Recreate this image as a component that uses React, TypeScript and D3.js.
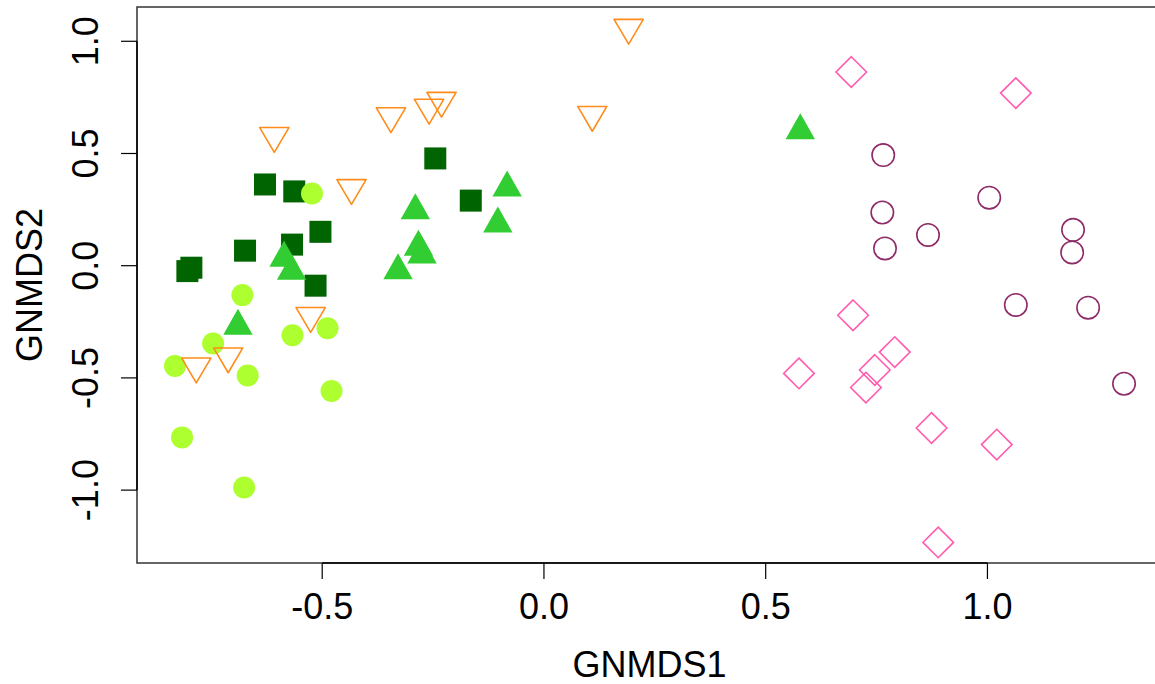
import React from "react";
import * as d3 from "d3";

// GNMDS ordination scores, one array pair per sample group
const squaresX = [-0.245, -0.629, -0.563, -0.165, -0.504, -0.568, -0.674, -0.795, -0.804, -0.515];
const squaresY = [0.478, 0.362, 0.331, 0.29, 0.151, 0.094, 0.067, -0.009, -0.024, -0.089];

const dotsX = [-0.523, -0.68, -0.567, -0.488, -0.746, -0.832, -0.668, -0.479, -0.816, -0.676];
const dotsY = [0.322, -0.131, -0.31, -0.279, -0.347, -0.447, -0.489, -0.558, -0.765, -0.988];

const trianglesX = [-0.083, -0.29, -0.104, -0.283, -0.275, -0.586, -0.569, -0.329, -0.69, 0.578];
const trianglesY = [0.347, 0.246, 0.187, 0.083, 0.049, 0.034, -0.024, -0.022, -0.269, 0.602];

const downTrianglesX = [-0.608, -0.345, -0.259, -0.231, -0.434, 0.191, 0.109, -0.526, -0.712, -0.784];
const downTrianglesY = [0.579, 0.667, 0.705, 0.736, 0.347, 1.061, 0.673, -0.223, -0.403, -0.448];

const diamondsX = [0.693, 1.064, 0.697, 0.791, 0.746, 0.575, 0.726, 0.874, 1.021, 0.889];
const diamondsY = [0.863, 0.769, -0.221, -0.385, -0.465, -0.48, -0.543, -0.723, -0.797, -1.233];

const ringsX = [0.765, 1.004, 0.763, 0.866, 0.769, 1.193, 1.191, 1.064, 1.227, 1.308];
const ringsY = [0.493, 0.303, 0.237, 0.137, 0.077, 0.16, 0.059, -0.175, -0.187, -0.526];

const xTicks = [-0.5, 0.0, 0.5, 1.0];
const yTicks = [-1.0, -0.5, 0.0, 0.5, 1.0];

const xLabel = "GNMDS1";
const yLabel = "GNMDS2";

const W = 1155;
const H = 684;
const plot = { left: 137, right: 1162, top: 7, bottom: 563 };

// axis limits: data range padded by 4% on each side
const allX = [...squaresX, ...dotsX, ...trianglesX, ...downTrianglesX, ...diamondsX, ...ringsX];
const allY = [...squaresY, ...dotsY, ...trianglesY, ...downTrianglesY, ...diamondsY, ...ringsY];
const pad = (ext: [number, number]): [number, number] => {
  const d = (ext[1] - ext[0]) * 0.04;
  return [ext[0] - d, ext[1] + d];
};

const x = d3.scaleLinear().domain(pad(d3.extent(allX) as [number, number])).range([plot.left, plot.right]);
const y = d3.scaleLinear().domain(pad(d3.extent(allY) as [number, number])).range([plot.bottom, plot.top]);

const zip = (xs: number[], ys: number[]) => xs.map((v, i) => [x(v), y(ys[i])] as [number, number]);

const font = "'Liberation Sans', Arial, Helvetica, sans-serif";
const fs = 36;
const tick = 16;

export default function App() {
  return (
    <svg
      width={W}
      height={H}
      style={{ position: "absolute", left: 0, top: 0, background: "#fff" }}
      fontFamily={font}
    >
      {/* points */}
      <g>
        {zip(squaresX, squaresY).map(([cx, cy], i) => (
          <rect key={"s" + i} x={cx - 11} y={cy - 11} width={22} height={22} fill="#006400" />
        ))}
        {zip(dotsX, dotsY).map(([cx, cy], i) => (
          <circle key={"c" + i} cx={cx} cy={cy} r={11} fill="#ADFF2F" />
        ))}
        {zip(trianglesX, trianglesY).map(([cx, cy], i) => (
          <path
            key={"t" + i}
            d={`M${cx},${cy - 17.3}L${cx + 14.7},${cy + 8.7}L${cx - 14.7},${cy + 8.7}Z`}
            fill="#32CD32"
          />
        ))}
        {zip(downTrianglesX, downTrianglesY).map(([cx, cy], i) => (
          <path
            key={"d" + i}
            d={`M${cx - 14.6},${cy - 8.2}L${cx + 14.6},${cy - 8.2}L${cx},${cy + 16.6}Z`}
            fill="none"
            stroke="#FF8C1A"
            strokeWidth={1.6}
            strokeLinejoin="round"
          />
        ))}
        {zip(diamondsX, diamondsY).map(([cx, cy], i) => (
          <path
            key={"m" + i}
            d={`M${cx},${cy - 15.3}L${cx + 15.3},${cy}L${cx},${cy + 15.3}L${cx - 15.3},${cy}Z`}
            fill="none"
            stroke="#FF5CAE"
            strokeWidth={1.6}
          />
        ))}
        {zip(ringsX, ringsY).map(([cx, cy], i) => (
          <circle
            key={"o" + i}
            cx={cx}
            cy={cy}
            r={11.2}
            fill="none"
            stroke="#8E2A66"
            strokeWidth={1.6}
          />
        ))}
      </g>

      {/* frame */}
      <rect
        x={plot.left}
        y={plot.top}
        width={plot.right - plot.left}
        height={plot.bottom - plot.top}
        fill="none"
        stroke="#333"
        strokeWidth={1.5}
      />

      {/* x axis */}
      <g>
        <line
          x1={x(xTicks[0])}
          x2={x(xTicks[xTicks.length - 1])}
          y1={plot.bottom}
          y2={plot.bottom}
          stroke="#000"
          strokeWidth={1.5}
        />
        {xTicks.map((t) => (
          <g key={"xt" + t}>
            <line x1={x(t)} x2={x(t)} y1={plot.bottom} y2={plot.bottom + tick} stroke="#000" strokeWidth={1.2} />
            <text x={x(t)} y={619} textAnchor="middle" fontSize={fs} fill="#000">
              {d3.format(".1f")(t).replace("−", "-")}
            </text>
          </g>
        ))}
        <text x={(plot.left + plot.right) / 2} y={677} textAnchor="middle" fontSize={fs} fill="#000">
          {xLabel}
        </text>
      </g>

      {/* y axis */}
      <g>
        <line
          x1={plot.left}
          x2={plot.left}
          y1={y(yTicks[0])}
          y2={y(yTicks[yTicks.length - 1])}
          stroke="#000"
          strokeWidth={1.5}
        />
        {yTicks.map((t) => (
          <g key={"yt" + t}>
            <line x1={plot.left - tick} x2={plot.left} y1={y(t)} y2={y(t)} stroke="#000" strokeWidth={1.2} />
            <text
              transform={`translate(98,${y(t)}) rotate(-90)`}
              textAnchor="middle"
              fontSize={fs}
              fill="#000"
            >
              {d3.format(".1f")(t).replace("−", "-")}
            </text>
          </g>
        ))}
        <text
          transform={`translate(42,${(plot.top + plot.bottom) / 2}) rotate(-90)`}
          textAnchor="middle"
          fontSize={fs}
          fill="#000"
        >
          {yLabel}
        </text>
      </g>
    </svg>
  );
}
